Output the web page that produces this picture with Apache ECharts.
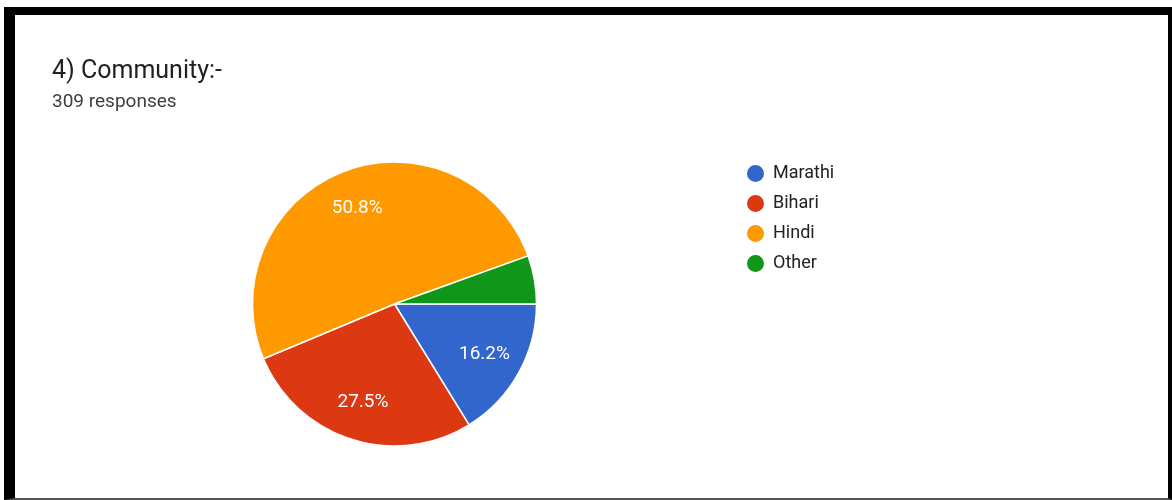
<!DOCTYPE html>
<html>
<head>
<meta charset="utf-8">
<script src="https://cdn.jsdelivr.net/npm/echarts@6/dist/echarts.min.js"></script>
<style>
  html, body { margin: 0; padding: 0; background: #fff; }
  #frame {
    position: absolute; left: 4px; top: 7px;
    width: 1153px; height: 483px;
    border-left: 11px solid #000; border-top: 8px solid #000;
    border-right: 4px solid #000; border-bottom: 2px solid #555;
    background: #fff;
  }
  #chart { position: absolute; left: 0; top: 0; width: 1172px; height: 500px; }
</style>
</head>
<body>
<div id="frame"></div>
<div id="chart"></div>
<script>
const titleText = '4) Community:-';
const subtitleText = '309 responses';
const categories = ['Marathi', 'Bihari', 'Hindi', 'Other'];
const percents = [16.2, 27.5, 50.8, 5.5];
const colors = ['#3366cc', '#dc3912', '#ff9900', '#109618'];

const chart = echarts.init(document.getElementById('chart'), null, { renderer: 'canvas' });
const pieData = categories.map((c, i) => ({ name: c, value: percents[i] }));
const fontFam = 'Roboto, Arial, sans-serif';

chart.setOption({
  animation: false,
  color: colors,
  title: [
    { text: titleText, left: 52, top: 59, padding: 0, textStyle: { fontFamily: fontFam, fontSize: 25, fontWeight: 'normal', color: '#202124' } },
    { text: subtitleText, left: 52, top: 93, padding: 0, textStyle: { fontFamily: fontFam, fontSize: 19, fontWeight: 'normal', color: '#3c4043' } }
  ],
  legend: {
    orient: 'vertical', left: 745, top: 163, padding: 0,
    icon: 'circle', itemWidth: 19, itemHeight: 19, itemGap: 9,
    data: categories,
    textStyle: { fontFamily: fontFam, fontSize: 18, color: '#222', padding: [0, 0, 0, 3] }
  },
  series: [
    {
      type: 'pie', center: [394.5, 304], radius: [0, 142],
      startAngle: 0, clockwise: true,
      data: pieData,
      itemStyle: { borderColor: '#fff', borderWidth: 1.5 },
      label: { show: false }, labelLine: { show: false },
      silent: true
    },
    {
      type: 'pie', center: [394.5, 304], radius: [58, 142],
      startAngle: 0, clockwise: true,
      data: pieData,
      legendHoverLink: false,
      itemStyle: { color: 'rgba(0,0,0,0)', borderWidth: 0 },
      label: {
        show: true, position: 'inside',
        fontFamily: fontFam, fontSize: 19, color: '#fff',
        formatter: p => p.value >= 10 ? p.value.toFixed(1) + '%' : ''
      },
      labelLine: { show: false },
      silent: true
    }
  ]
});
</script>
</body>
</html>
